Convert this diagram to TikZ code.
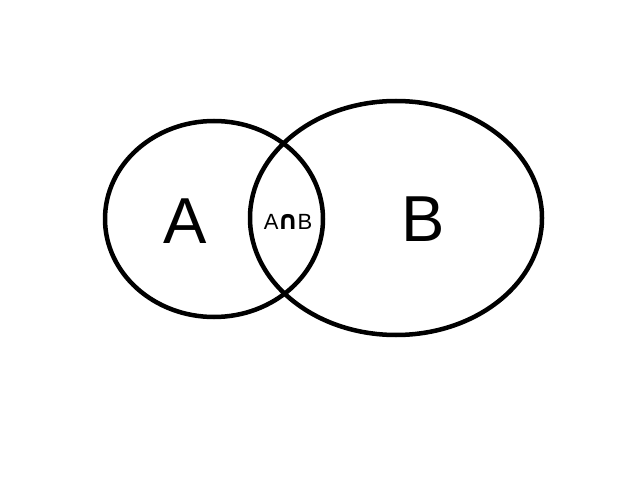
\documentclass[tikz,border=0pt]{standalone}
\usepackage{fontspec}
\setmainfont{Liberation Sans}
\newfontfamily\capfont{DejaVu Sans}
\usepackage{tikz}

\begin{document}
\begin{tikzpicture}[x=1pt,y=1pt]
  \useasboundingbox (0,0) rectangle (640,480);
  \fill[white] (0,0) rectangle (640,480);

  \draw[line width=4.5pt] (214,261) ellipse (109 and 98);
  \draw[line width=4.5pt] (396,262) ellipse (146 and 117);

  \node (a)  at (185,259) {\fontsize{65}{65}\selectfont A};
  \node (b)  at (423,261) {\fontsize{65}{65}\selectfont B};
  \node (ab) at (288,258) {\fontsize{22}{22}\selectfont A\kern-1pt{\capfont\bfseries\fontsize{26}{26}\selectfont ∩}\kern-1pt B};
\end{tikzpicture}
\end{document}
